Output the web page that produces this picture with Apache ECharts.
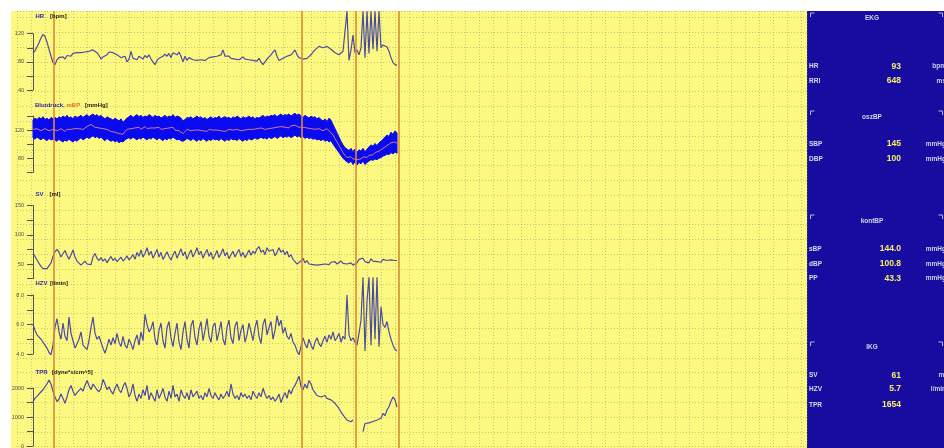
<!DOCTYPE html>
<html>
<head>
<meta charset="utf-8">
<script src="https://cdn.jsdelivr.net/npm/echarts@6/dist/echarts.min.js"></script>
<style>
html,body{margin:0;padding:0;background:#ffffff;}
#chart{width:944px;height:448px;}
</style>
</head>
<body>
<div id="chart"></div>
<script>
// ---- recorded signals (one sample every SAMPLE_STEP time units) ----
const SAMPLE_STEP = 2;

// heart rate [bpm]
const hrBpm = [
  92,96,101,107,114,119,116,108,98,88,
  79,76,83,86,85,87,84,89,91,88,
  92,90,93,91,93,92,94,93,95,94,
  97,98,93,89,84,87,85,90,94,96,
  93,95,90,92,86,84,88,80,84,95,
  85,87,83,88,86,84,89,86,90,84,
  80,76,82,85,83,88,91,88,92,86,
  93,95,90,94,88,80,88,82,86,84,
  83,85,82,84,83,85,82,84,86,85,
  87,86,88,86,90,97,88,86,88,85,
  87,84,86,83,85,87,84,86,83,85,
  82,84,81,85,80,76,80,84,87,90,
  94,97,88,82,80,85,83,88,86,90,
  93,97,90,86,88,84,82,85,83,90,
  94,97,99,102,101,100,101,102,100,98,
  96,93,91,90,92,95,96,152,82,97,
  118,93,97,90,100,152,86,152,92,152,
  98,152,95,152,100,104,103,101,95,86,
  79,76,75
];

// continuous blood pressure: systolic / diastolic envelope and mean [mmHg]
const bpSys = [
  134,137,135,138,136,139,135,137,134,138,136,
  138,136,139,137,140,138,141,137,139,136,140,138,
  139,141,138,140,142,139,
  141,143,140,142,139,141,
  138,136,139,137,
  136,134,137,135,133,136,
  131,134,137,
  139,141,138,140,142,139,141,138,140,139,142,140,138,141,139,140,137,139,141,138,140,139,142,138,140,139,137,
  133,135,138,
  137,139,136,138,140,137,139,136,138,135,137,139,136,138,137,140,136,138,139,137,138,136,139,137,140,138,136,139,137,138,140,137,139,136,138,137,139,141,138,140,139,141,
  140,142,139,141,143,140,142,141,143,140,142,144,141,143,
  140,138,141,139,137,140,138,139,136,138,
  135,133,136,132,137,134,
  128,122,116,110,104,99,95,93,
  91,94,89,93,88,92,90,94,89,93,
  96,99,97,101,98,102,104,107,
  110,113,111,117,114,119,116
];
const bpDia = [
  109,107,110,108,106,109,107,105,108,106,107,
  106,104,107,105,103,106,104,107,105,103,106,104,
  107,109,106,108,110,108,
  110,112,109,111,108,110,
  107,105,108,106,
  104,106,103,105,102,104,
  103,106,108,
  109,107,110,108,106,109,107,110,108,106,109,107,110,108,106,109,107,105,108,106,109,107,110,108,106,107,105,
  104,106,108,
  107,105,108,106,104,107,105,108,106,104,107,105,108,106,107,105,108,106,104,107,105,108,106,107,105,108,106,104,107,105,108,106,107,109,107,108,110,108,109,107,110,108,
  109,111,108,110,112,109,111,110,112,109,111,113,110,112,
  109,111,108,110,108,109,107,108,106,107,
  105,107,104,106,103,105,
  100,96,92,88,84,80,77,75,
  73,76,71,75,70,74,72,76,71,74,
  76,78,77,79,78,80,81,83,
  84,86,85,88,86,89,87
];
const bpMean = [
  121,120,122,121,119,120,122,121,119,120,121,
  120,119,121,122,120,118,121,123,121,119,122,120,
  122,124,121,123,125,127,
  128,126,124,125,123,124,
  122,120,121,119,
  118,120,117,118,115,117,
  114,118,121,
  123,122,124,123,122,124,121,123,125,122,124,123,121,123,122,124,121,120,122,121,123,122,124,120,118,119,117,
  115,118,121,
  120,119,121,120,118,120,121,119,120,118,121,119,120,122,120,121,119,120,118,120,121,119,120,118,121,120,119,121,120,122,121,119,121,120,122,121,123,122,121,123,122,124,
  123,125,124,122,125,126,124,125,123,126,124,127,125,124,
  126,124,125,123,124,122,123,121,120,122,
  121,119,120,122,119,118,
  113,108,103,98,93,88,84,81,
  80,82,79,81,78,80,79,82,80,81,
  84,86,85,88,87,90,92,94,
  96,98,99,102,101,103,101
];

// stroke volume [ml]
const svMl = [
  68,63,57,51,46,42,41,42,45,52,63,
  71,75,70,62,68,73,65,58,66,74,62,55,
  52,48,51,55,50,53,49,62,68,60,56,
  61,55,59,52,58,63,56,60,54,58,62,55,59,64,57,61,
  66,58,70,63,74,62,68,78,65,72,60,67,75,62,70,58,64,71,
  63,57,66,72,60,68,76,64,71,58,67,74,62,69,78,66,72,60,68,75,63,
  70,58,65,73,61,68,76,64,70,59,66,72,62,69,75,63,70,61,67,74,65,
  72,68,76,80,70,74,66,78,72,69,75,64,70,
  78,70,74,66,72,62,66,58,54,50,48,
  55,60,52,56,50,53,49,51,48,50,49,52,
  50,52,49,53,51,54,50,52,55,51,53,50,49,52,48,46,
  52,58,55,60,54,57,52,59,55,58,
  54,57,53,58,55,56,54,57,55,56,56
];

// cardiac output [l/min]
const hzvLmin = [
  6.0,5.6,5.3,5.2,5.0,4.8,4.6,4.4,4.1,3.95,4.6,
  5.8,6.4,5.5,5.0,6.1,5.2,4.9,6.5,5.4,4.9,4.4,4.7,
  5.0,5.5,4.6,4.5,4.3,4.9,5.8,6.5,5.4,5.0,5.2,
  4.8,4.4,4.05,4.5,5.0,4.6,5.1,4.7,5.4,4.8,4.5,5.2,4.6,4.4,5.0,4.7,
  4.3,4.9,5.3,4.6,5.5,4.9,6.7,6.0,5.5,5.7,6.2,5.0,4.6,5.6,6.1,4.9,4.4,5.8,
  6.2,5.1,4.5,5.4,6.1,4.8,4.3,5.5,6.2,5.0,4.4,5.9,6.3,5.1,4.6,5.7,6.2,4.9,5.6,6.4,5.2,
  4.8,5.9,6.1,4.9,5.5,6.2,5.0,4.6,5.8,6.3,5.1,4.7,5.9,6.2,4.9,5.6,6.0,4.8,5.3,6.1,5.5,
  4.9,5.8,6.3,5.2,4.7,6.0,6.4,5.3,5.8,6.2,5.0,5.6,6.6,
  5.9,6.3,5.4,5.8,5.2,5.0,5.4,4.8,4.6,4.2,3.95,
  4.5,5.1,4.7,4.4,5.0,4.6,4.3,4.8,5.1,4.7,4.5,4.9,
  5.2,4.8,5.3,5.0,5.5,4.9,5.1,5.4,4.8,5.2,5.0,8.0,5.3,4.9,5.1,4.8,
  4.6,5.4,6.3,9.2,4.2,7.6,9.2,4.6,9.2,5.0,
  9.2,4.5,7.2,6.0,5.8,6.2,5.5,5.0,4.6,4.3,4.2
];

// total peripheral resistance [dyne*s/cm^5]; null = signal lost
const tprDyn = [
  1540,1650,1720,1800,1880,1950,2050,2150,2290,2150,1900,
  1700,1540,1620,1800,1650,1480,1700,1950,2100,1900,1750,1850,
  1850,2000,1900,2100,2270,2100,1950,2150,2050,1950,1880,
  2000,2310,2150,1950,2050,1900,1800,2000,2150,1950,1850,2050,2200,2000,1700,1850,
  2150,1750,1550,1800,1650,1950,1750,2100,1600,1850,1700,1550,1950,1650,1800,2000,1700,1550,
  1900,1650,2100,1700,1800,1550,1950,1750,1650,1850,1600,1950,1700,1800,1900,1650,1750,1600,1850,1700,2000,
  1750,1650,1850,1700,1600,1800,1650,1750,1900,1700,2150,1800,1650,1750,1600,1850,1700,1800,1650,1750,1600,
  1900,1750,1650,1850,1700,2000,1800,1650,1750,1600,1700,1550,1650,
  1800,1500,1700,1850,1650,1950,1800,2000,2100,2050,2420,
  2050,1950,2150,2000,2270,2150,1950,1850,1750,1800,1700,1650,
  1750,1650,1700,1600,1550,1480,1420,1300,1180,1080,980,900,880,840,900,null,
  null,null,null,500,780,720,800,760,850,820,
  900,870,960,1130,1050,1250,1360,1550,1700,1600,1350
];

// event markers (time units)
const eventTimes = [21, 269, 323, 366];

// readout panel
const readoutGroups = ['EKG', 'oszBP', 'kontBP', 'IKG'];
const readoutLabels = [['HR', 'RRI'], ['SBP', 'DBP'], ['sBP', 'dBP', 'PP'], ['SV', 'HZV', 'TPR']];
const readoutValues = [['93', '648'], ['145', '100'], ['144.0', '100.8', '43.3'], ['61', '5.7', '1654']];
const readoutUnits = [['bpm', 'ms'], ['mmHg', 'mmHg'], ['mmHg', 'mmHg', 'mmHg'], ['ml', 'l/min', '']];

// ---- layout & styles ----
const T_MAX = 774;
const FONT = '"Liberation Sans", Arial, sans-serif';
const TRACE = '#4b4ba4';
const BP_BLUE = '#0a0af0';
const AXIS = '#555555';
const GRID_DOT = 'rgba(140,135,95,0.45)';

const panelAxes = [
  { top: 33.7, bottom: 358,   min: 40, max: 120,  interval: 20,  every: 40,   dec: 0 },
  { top: 116,  bottom: 275.7, min: 60, max: 140,  interval: 20,  every: 40,   dec: 0 },
  { top: 205.7,bottom: 169.4, min: 25, max: 150,  interval: 25,  every: 50,   dec: 0 },
  { top: 295,  bottom: 94,    min: 4,  max: 8,    interval: 1,   every: 2,    dec: 1 },
  { top: 388.3,bottom: 2,     min: 0,  max: 2000, interval: 500, every: 1000, dec: 0 }
];

const panelTitles = [
  { y: 16,    parts: [['HR', '#2a2aa8', 35.5], ['[bpm]', '#1a1a1a', 50]] },
  { y: 105,   parts: [['Blutdruck,', '#2a2aa8', 35], ['mBP', '#e07020', 66.5], ['[mmHg]', '#1a1a1a', 85]] },
  { y: 194,   parts: [['SV', '#2a2aa8', 35.5], ['[ml]', '#1a1a1a', 49.5]] },
  { y: 283.3, parts: [['HZV', '#2a2aa8', 35.5], ['[l/min]', '#1a1a1a', 50]] },
  { y: 372.3, parts: [['TPR', '#2a2aa8', 35.5], ['[dyne*s/cm^5]', '#1a1a1a', 52]] }
];

const readoutLayout = {
  headerY: [18.3, 117, 221, 347.3],
  bracketY: [13, 111, 215, 342],
  rowY: [[66.7, 81], [144, 159], [249, 264, 278.3], [375.7, 389, 405]],
  labelX: 809, valueX: 901, unitX: 946, headerX: 872
};

const toPairs = arr => arr.map((v, i) => [i * SAMPLE_STEP, v === null ? '-' : v]);

// ---- grids & axes ----
const grids = [
  { left: 17, right: 137, top: 11, bottom: 1.3 },   // dotted paper grid
  { left: 33, right: 137, top: 11, bottom: 0 }      // event markers
];
panelAxes.forEach(p => grids.push({ left: 33, right: 137, top: p.top, bottom: p.bottom }));
grids.forEach(g => { g.outerBoundsMode = 'none'; g.containLabel = false; });

const xAxes = [
  { gridIndex: 0, type: 'value', min: 0, max: 790, interval: 14,
    axisLine: { show: false }, axisTick: { show: false }, axisLabel: { show: false },
    splitLine: { show: true, lineStyle: { color: GRID_DOT, type: [1, 2], width: 1 } } }
];
const yAxes = [
  { gridIndex: 0, type: 'value', min: 0, max: 435.7, interval: 14.8,
    axisLine: { show: false }, axisTick: { show: false }, axisLabel: { show: false },
    splitLine: { show: true, lineStyle: { color: GRID_DOT, type: [1, 2], width: 1 } } },
  { gridIndex: 1, type: 'value', min: 0, max: 1, show: false }
];
for (let g = 1; g < grids.length; g++) {
  xAxes.push({ gridIndex: g, type: 'value', min: 0, max: T_MAX, show: false });
}
panelAxes.forEach((p, i) => {
  yAxes.push({
    gridIndex: i + 2, type: 'value', min: p.min, max: p.max, interval: p.interval,
    axisLine: { show: true, lineStyle: { color: AXIS, width: 1 } },
    axisTick: { show: true, length: 6, inside: false, lineStyle: { color: AXIS, width: 1 } },
    splitLine: { show: false },
    axisLabel: {
      show: true, margin: 9, fontSize: 5.5, color: '#505050', fontFamily: FONT,
      formatter: v => (Math.abs(v % p.every) < 1e-9 ? v.toFixed(p.dec) : '')
    }
  });
});

// ---- series ----
const lineBase = { type: 'line', symbol: 'none', clip: false, silent: true, animation: false };

// filled band between the systolic and diastolic envelopes
function renderBpBand(params, api) {
  const pts = [];
  for (let i = 0; i < bpSys.length; i++) pts.push(api.coord([i * SAMPLE_STEP, bpSys[i]]));
  for (let i = bpDia.length - 1; i >= 0; i--) pts.push(api.coord([i * SAMPLE_STEP, bpDia[i]]));
  return { type: 'polygon', shape: { points: pts },
    style: { fill: BP_BLUE, stroke: BP_BLUE, lineWidth: 1 } };
}

const series = [
  Object.assign({}, lineBase, {
    xAxisIndex: 1, yAxisIndex: 1, data: [[0, 0]], z: 1,
    lineStyle: { width: 0 },
    markLine: {
      silent: true, symbol: 'none', label: { show: false }, animation: false,
      lineStyle: { color: '#dc8a34', width: 1.6, type: 'solid' },
      data: eventTimes.map(t => ({ xAxis: t }))
    }
  }),
  Object.assign({}, lineBase, { xAxisIndex: 2, yAxisIndex: 2, data: toPairs(hrBpm), z: 3,
    lineStyle: { color: TRACE, width: 1.2 } }),
  { type: 'custom', xAxisIndex: 3, yAxisIndex: 3, z: 3, silent: true, animation: false,
    data: [[0, bpMean[0]]], renderItem: renderBpBand },
  Object.assign({}, lineBase, { xAxisIndex: 3, yAxisIndex: 3, data: toPairs(bpMean), z: 4,
    lineStyle: { color: '#e08484', width: 0.9 } }),
  Object.assign({}, lineBase, { xAxisIndex: 4, yAxisIndex: 4, data: toPairs(svMl), z: 3,
    lineStyle: { color: TRACE, width: 1.2 } }),
  Object.assign({}, lineBase, { xAxisIndex: 5, yAxisIndex: 5, data: toPairs(hzvLmin), z: 3,
    lineStyle: { color: TRACE, width: 1.2 } }),
  Object.assign({}, lineBase, { xAxisIndex: 6, yAxisIndex: 6, data: toPairs(tprDyn), z: 3,
    connectNulls: false, lineStyle: { color: TRACE, width: 1.2 } })
];

// ---- graphic: backgrounds, titles, readout panel ----
const graphics = [
  { type: 'rect', z: -10, silent: true, shape: { x: 11, y: 11, width: 796, height: 437 }, style: { fill: '#fdf980' } },
  { type: 'rect', z: -10, silent: true, shape: { x: 807, y: 11, width: 137, height: 437 }, style: { fill: '#180ca0' } }
];
panelTitles.forEach(t => {
  t.parts.forEach(([text, color, x]) => {
    graphics.push({ type: 'text', z: 50, silent: true, x: x, y: t.y,
      style: { text: text, fill: color, font: 'bold 6px ' + FONT, textAlign: 'left', textVerticalAlign: 'middle' } });
  });
});
readoutGroups.forEach((name, gi) => {
  const by = readoutLayout.bracketY[gi];
  graphics.push({ type: 'polyline', z: 50, silent: true, shape: { points: [[810.5, by + 4], [810.5, by], [814.5, by]] },
    style: { stroke: '#b8b8d8', lineWidth: 1, fill: null } });
  graphics.push({ type: 'polyline', z: 50, silent: true, shape: { points: [[938.5, by], [942.5, by], [942.5, by + 4]] },
    style: { stroke: '#b8b8d8', lineWidth: 1, fill: null } });
  graphics.push({ type: 'text', z: 50, silent: true, x: readoutLayout.headerX, y: readoutLayout.headerY[gi],
    style: { text: name, fill: '#d4d4e8', font: 'bold 6.5px ' + FONT, textAlign: 'center', textVerticalAlign: 'middle' } });
  readoutLabels[gi].forEach((lab, ri) => {
    const y = readoutLayout.rowY[gi][ri];
    graphics.push({ type: 'text', z: 50, silent: true, x: readoutLayout.labelX, y: y,
      style: { text: lab, fill: '#dcdcec', font: 'bold 6.5px ' + FONT, textAlign: 'left', textVerticalAlign: 'middle' } });
    graphics.push({ type: 'text', z: 50, silent: true, x: readoutLayout.valueX, y: y,
      style: { text: readoutValues[gi][ri], fill: '#f4f06a', font: 'bold 8.5px ' + FONT, textAlign: 'right', textVerticalAlign: 'middle' } });
    graphics.push({ type: 'text', z: 50, silent: true, x: readoutLayout.unitX, y: y,
      style: { text: readoutUnits[gi][ri], fill: '#d0d0e4', font: 'bold 6.5px ' + FONT, textAlign: 'right', textVerticalAlign: 'middle' } });
  });
});

const chart = echarts.init(document.getElementById('chart'), null, { renderer: 'canvas' });
chart.setOption({
  animation: false,
  backgroundColor: '#ffffff',
  grid: grids,
  xAxis: xAxes,
  yAxis: yAxes,
  series: series,
  graphic: { elements: graphics }
});
</script>
</body>
</html>
